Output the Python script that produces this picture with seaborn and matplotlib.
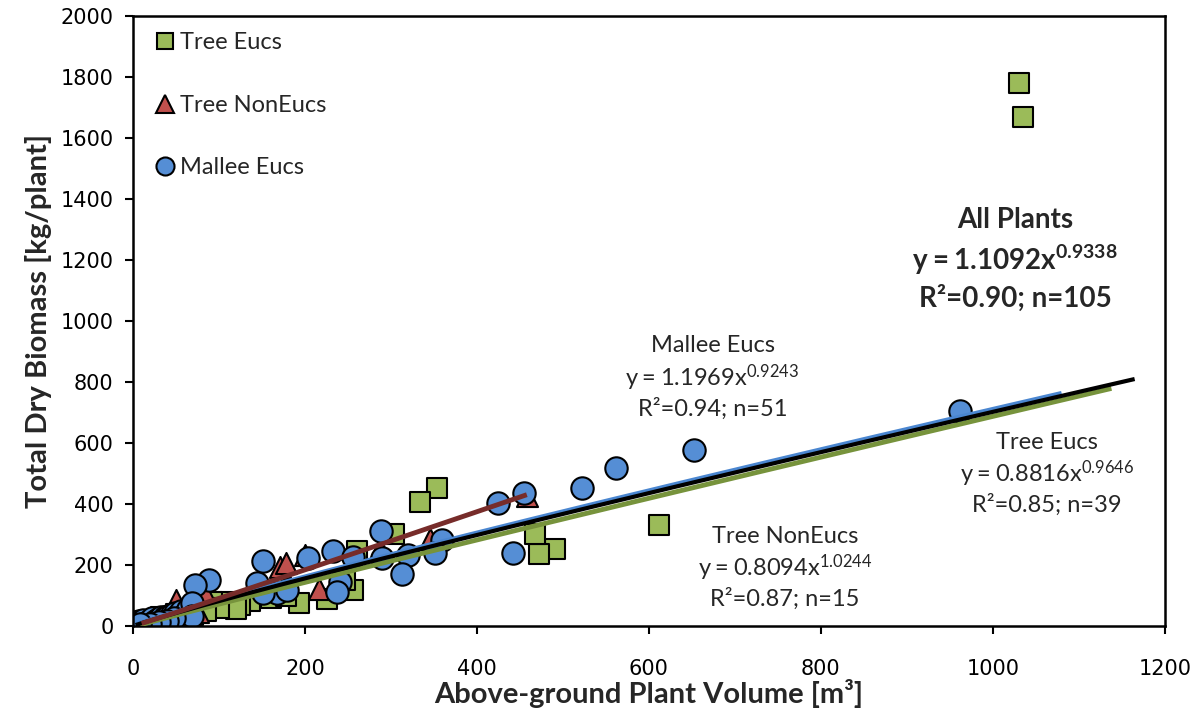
import matplotlib
matplotlib.use('Agg')
import matplotlib.pyplot as plt
from matplotlib.lines import Line2D
import numpy as np
import pandas as pd
import seaborn as sns

# Data: above-ground volume [m3] vs dry biomass [kg/plant]
tree_eucs_x = [1031, 1035, 612, 491, 472, 467, 353, 334, 304, 260, 256, 226, 193, 246,
               136, 124, 108, 92, 78, 64, 70, 58, 50, 45, 40, 35, 30, 25, 20, 15, 10,
               120, 100, 85, 160, 178, 55, 32, 12]
tree_eucs_y = [1780, 1668, 332, 254, 236, 303, 452, 406, 302, 246, 118, 88, 77, 150,
               82, 70, 80, 78, 62, 22, 35, 45, 38, 25, 30, 22, 20, 15, 12, 10, 8,
               55, 60, 50, 92, 100, 15, 28, 5]

nonecus_x = [345, 287, 216, 171, 178, 200, 458, 50, 84, 75, 51, 62, 35, 20, 10]
nonecus_y = [285, 252, 122, 193, 205, 232, 425, 85, 108, 45, 46, 70, 30, 15, 8]

mallee_x = [962, 652, 562, 522, 455, 425, 442, 359, 351, 320, 313, 288, 290, 233, 256,
            241, 237, 204, 167, 179, 151, 144, 151, 88, 72,
            3, 5, 7, 10, 12, 14, 18, 22, 25, 29, 33, 37, 41, 45, 49, 52, 56, 60, 64,
            69, 69, 48, 40, 30, 20, 8]
mallee_y = [705, 577, 518, 452, 436, 403, 239, 283, 239, 233, 172, 312, 222, 246, 226,
            144, 111, 223, 108, 118, 108, 141, 213, 150, 134,
            12, 8, 15, 10, 20, 10, 15, 25, 18, 22, 28, 30, 32, 38, 43, 35, 48, 40, 55,
            75, 32, 25, 18, 12, 8, 5]

# power-law trendlines as printed on the chart: (a, b, x_start, x_end)
fits = {
    'Tree Eucs': (0.8816, 0.9646, 8, 1138),
    'Tree NonEucs': (0.8094, 1.0244, 10, 458),
    'Mallee Eucs': (1.1969, 0.9243, 3, 1080),
    'All Plants': (1.1092, 0.9338, 3, 1165),
}

green, red, blue = '#9BBB59', '#C0504D', '#558ED5'

sns.set_style('white')
plt.rcParams['font.family'] = ['Lato', 'DejaVu Sans']
plt.rcParams['mathtext.fontset'] = 'custom'
plt.rcParams['mathtext.rm'] = 'Lato'
plt.rcParams['mathtext.bf'] = 'Lato:bold'

fig = plt.figure(figsize=(12.02, 7.13), dpi=100)
ax = fig.add_axes([0.1107, 0.122, 0.8583, 0.8556])

df_t = pd.DataFrame({'x': tree_eucs_x, 'y': tree_eucs_y})
df_n = pd.DataFrame({'x': nonecus_x, 'y': nonecus_y})
df_m = pd.DataFrame({'x': mallee_x, 'y': mallee_y})

sns.scatterplot(data=df_t, x='x', y='y', marker='s', s=190, color=green,
                edgecolor='black', linewidth=1.5, ax=ax, zorder=2)
sns.scatterplot(data=df_n, x='x', y='y', marker='^', s=230, color=red,
                edgecolor='black', linewidth=1.5, ax=ax, zorder=2)
sns.scatterplot(data=df_m, x='x', y='y', marker='o', s=260, color=blue,
                edgecolor='black', linewidth=1.5, ax=ax, zorder=2)

line_styles = {
    'Tree Eucs': dict(color='#77933C', lw=3.5, offset=-3),
    'Mallee Eucs': dict(color='#4A86D0', lw=3.0, offset=2),
    'All Plants': dict(color='black', lw=3.0, offset=0),
    'Tree NonEucs': dict(color='#772C2A', lw=3.5, offset=0),
}
for name in ['Tree Eucs', 'Mallee Eucs', 'All Plants', 'Tree NonEucs']:
    a, b, x0, x1 = fits[name]
    xs = np.linspace(x0, x1, 200)
    st = line_styles[name]
    ax.plot(xs, a * xs ** b + st['offset'], color=st['color'], lw=st['lw'], zorder=3,
            solid_capstyle='butt')

ax.set_xlim(0, 1200)
ax.set_ylim(0, 2000)
ax.set_xticks(range(0, 1201, 200))
ax.set_yticks(range(0, 2001, 200))
ax.tick_params(direction='out', length=6, width=1.5, color='black', labelsize=15,
               labelcolor='black', left=True, bottom=True)
ax.tick_params(axis='x', pad=18)
ax.tick_params(axis='y', pad=8)
for lab in ax.get_xticklabels() + ax.get_yticklabels():
    lab.set_family('DejaVu Sans')
for sp in ax.spines.values():
    sp.set_color('black')
    sp.set_linewidth(1.8)

ax.set_xlabel('Above-ground Plant Volume [m³]', fontsize=21, fontweight='bold', labelpad=0)
ax.set_ylabel('Total Dry Biomass [kg/plant]', fontsize=21, fontweight='bold', labelpad=6)

# fit annotations
ax.text(1026, 1331, 'All Plants', ha='center', va='center', fontsize=20, fontweight='bold')
ax.text(1026, 1200, r'$\mathbf{y = 1.1092x^{0.9338}}$', ha='center', va='center', fontsize=20)
ax.text(1026, 1075, 'R²=0.90; n=105', ha='center', va='center', fontsize=20, fontweight='bold')

ax.text(674, 921, 'Mallee Eucs', ha='center', va='center', fontsize=17)
ax.text(674, 813, r'$\mathregular{y = 1.1969x^{0.9243}}$', ha='center', va='center', fontsize=17)
ax.text(674, 711, 'R²=0.94; n=51', ha='center', va='center', fontsize=17)

ax.text(1063, 603, 'Tree Eucs', ha='center', va='center', fontsize=17)
ax.text(1063, 498, r'$\mathregular{y = 0.8816x^{0.9646}}$', ha='center', va='center', fontsize=17)
ax.text(1063, 397, 'R²=0.85; n=39', ha='center', va='center', fontsize=17)

ax.text(758, 292, 'Tree NonEucs', ha='center', va='center', fontsize=17)
ax.text(758, 190, r'$\mathregular{y = 0.8094x^{1.0244}}$', ha='center', va='center', fontsize=17)
ax.text(758, 89, 'R²=0.87; n=15', ha='center', va='center', fontsize=17)

handles = [
    Line2D([], [], ls='none', marker='s', ms=12, mfc=green, mec='black', mew=1.5, label='Tree Eucs'),
    Line2D([], [], ls='none', marker='^', ms=13, mfc=red, mec='black', mew=1.5, label='Tree NonEucs'),
    Line2D([], [], ls='none', marker='o', ms=13, mfc=blue, mec='black', mew=1.5, label='Mallee Eucs'),
]
ax.legend(handles=handles, loc='upper left', frameon=False, fontsize=17,
          labelspacing=1.75, handletextpad=0.0, borderaxespad=0.3, handlelength=1.3)

fig.savefig('out.png', dpi=100)
